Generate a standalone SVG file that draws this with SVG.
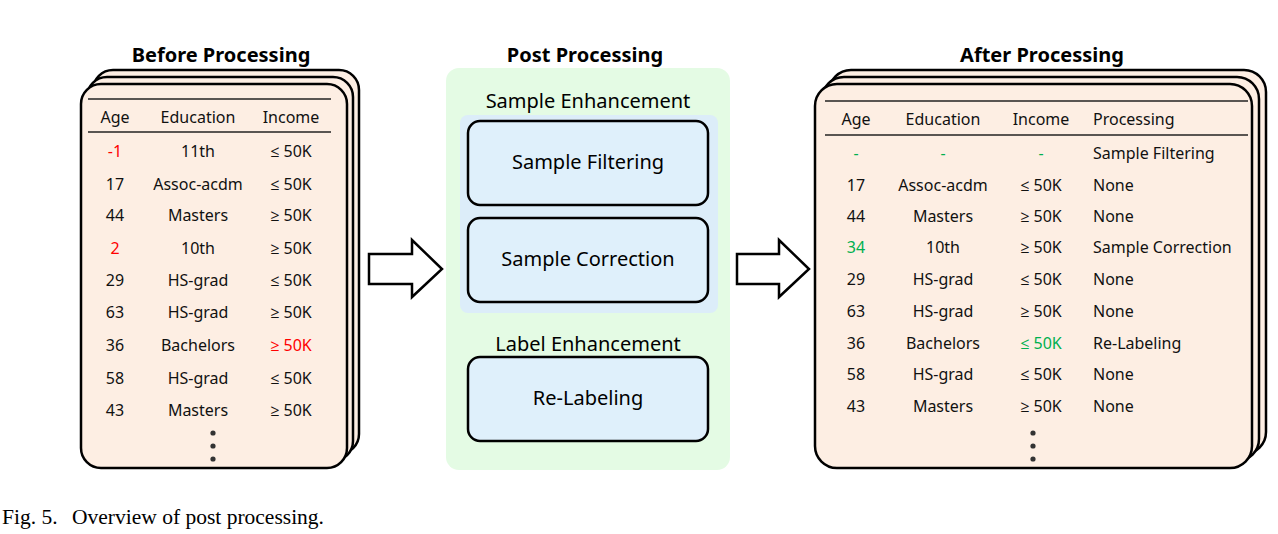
<svg xmlns="http://www.w3.org/2000/svg" width="1278" height="534" viewBox="0 0 1278 534">
<style>
.card{fill:#fdeee3;stroke:#000;stroke-width:2.5}
.rule{stroke:#222;stroke-width:1.6}
.t{font-family:"Noto Sans","Open Sans",sans-serif;font-size:16px;fill:#111;text-anchor:middle}
.tl{font-family:"Noto Sans","Open Sans",sans-serif;font-size:16px;fill:#111}
.title{font-family:"Noto Sans",sans-serif;font-weight:bold;font-size:20px;fill:#000;text-anchor:middle}
.sec{font-family:"Noto Sans",sans-serif;font-size:20px;fill:#000;text-anchor:middle}
.box{fill:#dff0fb;stroke:#000;stroke-width:2.5}
.r{fill:#ff0000}
.g{fill:#00b050}
.dot{fill:#333}
.arrow{fill:#fff;stroke:#000;stroke-width:2.5;stroke-linejoin:miter}
.cap{font-family:"Liberation Serif",serif;font-size:21.5px;fill:#000}
</style>

<g id="before">
  <text class="title" x="221" y="62">Before Processing</text>
  <rect class="card" x="93" y="70" width="266" height="384" rx="20"/>
  <rect class="card" x="87" y="77" width="266" height="384" rx="20"/>
  <rect class="card" x="81" y="84" width="266" height="384" rx="20"/>
  <line class="rule" x1="88" y1="99" x2="331" y2="99"/>
  <line class="rule" x1="88" y1="132" x2="331" y2="132"/>
  <text class="t" x="115" y="123">Age</text>
  <text class="t" x="198" y="123">Education</text>
  <text class="t" x="291" y="123">Income</text>
  <g>
    <text class="t r" x="115" y="157">-1</text><text class="t" x="198" y="157">11th</text><text class="t" x="291" y="157">≤ 50K</text>
    <text class="t" x="115" y="190">17</text><text class="t" x="198" y="190">Assoc-acdm</text><text class="t" x="291" y="190">≤ 50K</text>
    <text class="t" x="115" y="221">44</text><text class="t" x="198" y="221">Masters</text><text class="t" x="291" y="221">≥ 50K</text>
    <text class="t r" x="115" y="254">2</text><text class="t" x="198" y="254">10th</text><text class="t" x="291" y="254">≥ 50K</text>
    <text class="t" x="115" y="286">29</text><text class="t" x="198" y="286">HS-grad</text><text class="t" x="291" y="286">≤ 50K</text>
    <text class="t" x="115" y="318">63</text><text class="t" x="198" y="318">HS-grad</text><text class="t" x="291" y="318">≥ 50K</text>
    <text class="t" x="115" y="351">36</text><text class="t" x="198" y="351">Bachelors</text><text class="t r" x="291" y="351">≥ 50K</text>
    <text class="t" x="115" y="384">58</text><text class="t" x="198" y="384">HS-grad</text><text class="t" x="291" y="384">≤ 50K</text>
    <text class="t" x="115" y="416">43</text><text class="t" x="198" y="416">Masters</text><text class="t" x="291" y="416">≥ 50K</text>
  </g>
  <circle class="dot" cx="213" cy="433" r="2.6"/>
  <circle class="dot" cx="213" cy="446" r="2.6"/>
  <circle class="dot" cx="213" cy="459" r="2.6"/>
</g>

<g id="post">
  <text class="title" x="585" y="62">Post Processing</text>
  <rect x="446" y="68" width="284" height="402" rx="13" fill="#e4fbe4"/>
  <text class="sec" x="588" y="108">Sample Enhancement</text>
  <rect x="460" y="115" width="258" height="198" rx="8" fill="#dcedf9"/>
  <g id="filtering">
    <rect class="box" x="468" y="121" width="240" height="84" rx="12"/>
    <text class="sec" x="588" y="169">Sample Filtering</text>
  </g>
  <g id="correction">
    <rect class="box" x="468" y="218" width="240" height="84" rx="12"/>
    <text class="sec" x="588" y="266">Sample Correction</text>
  </g>
  <text class="sec" x="588" y="351">Label Enhancement</text>
  <g id="relabeling">
    <rect class="box" x="468" y="357" width="240" height="84" rx="12"/>
    <text class="sec" x="588" y="405">Re-Labeling</text>
  </g>
</g>

<g id="connectors">
  <polygon class="arrow" points="369,254 412,254 412,240 442,269 412,297 412,284 369,284"/>
  <polygon class="arrow" points="737,254 779,254 779,240 809,269 779,297 779,284 737,284"/>
</g>

<g id="after">
  <text class="title" x="1042" y="62">After Processing</text>
  <rect class="card" x="829" y="70" width="437" height="384" rx="22"/>
  <rect class="card" x="822" y="77" width="437" height="384" rx="22"/>
  <rect class="card" x="815" y="84" width="437" height="384" rx="22"/>
  <line class="rule" x1="825" y1="101" x2="1248" y2="101"/>
  <line class="rule" x1="825" y1="135" x2="1248" y2="135"/>
  <text class="t" x="856" y="125">Age</text>
  <text class="t" x="943" y="125">Education</text>
  <text class="t" x="1041" y="125">Income</text>
  <text class="tl" x="1093" y="125">Processing</text>
  <g>
    <text class="t g" x="856" y="159">-</text><text class="t g" x="943" y="159">-</text><text class="t g" x="1041" y="159">-</text><text class="tl" x="1093" y="159">Sample Filtering</text>
    <text class="t" x="856" y="191">17</text><text class="t" x="943" y="191">Assoc-acdm</text><text class="t" x="1041" y="191">≤ 50K</text><text class="tl" x="1093" y="191">None</text>
    <text class="t" x="856" y="222">44</text><text class="t" x="943" y="222">Masters</text><text class="t" x="1041" y="222">≥ 50K</text><text class="tl" x="1093" y="222">None</text>
    <text class="t g" x="856" y="253">34</text><text class="t" x="943" y="253">10th</text><text class="t" x="1041" y="253">≥ 50K</text><text class="tl" x="1093" y="253">Sample Correction</text>
    <text class="t" x="856" y="285">29</text><text class="t" x="943" y="285">HS-grad</text><text class="t" x="1041" y="285">≤ 50K</text><text class="tl" x="1093" y="285">None</text>
    <text class="t" x="856" y="317">63</text><text class="t" x="943" y="317">HS-grad</text><text class="t" x="1041" y="317">≥ 50K</text><text class="tl" x="1093" y="317">None</text>
    <text class="t" x="856" y="349">36</text><text class="t" x="943" y="349">Bachelors</text><text class="t g" x="1041" y="349">≤ 50K</text><text class="tl" x="1093" y="349">Re-Labeling</text>
    <text class="t" x="856" y="380">58</text><text class="t" x="943" y="380">HS-grad</text><text class="t" x="1041" y="380">≤ 50K</text><text class="tl" x="1093" y="380">None</text>
    <text class="t" x="856" y="412">43</text><text class="t" x="943" y="412">Masters</text><text class="t" x="1041" y="412">≥ 50K</text><text class="tl" x="1093" y="412">None</text>
  </g>
  <circle class="dot" cx="1033" cy="433" r="2.6"/>
  <circle class="dot" cx="1033" cy="446" r="2.6"/>
  <circle class="dot" cx="1033" cy="459" r="2.6"/>
</g>

<text class="cap" x="2" y="524">Fig. 5.</text>
<text class="cap" x="72" y="524">Overview of post processing.</text>
</svg>
